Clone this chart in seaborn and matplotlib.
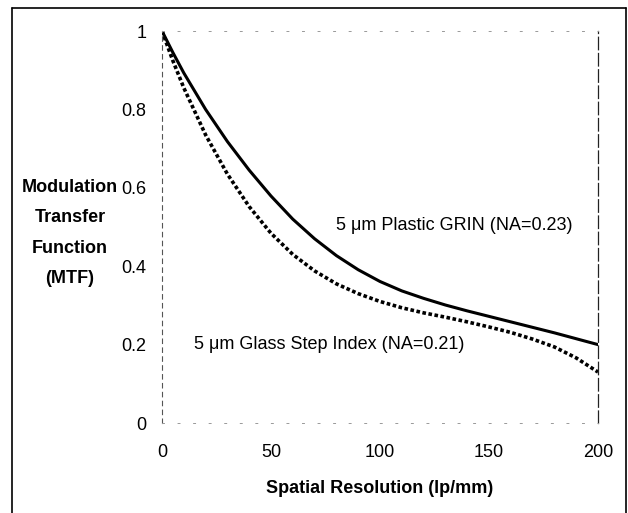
import matplotlib
matplotlib.use("Agg")
import matplotlib.pyplot as plt
import seaborn as sns
import pandas as pd
from matplotlib.lines import Line2D

# Data
freq = [0, 5, 10, 20, 30, 40, 50, 60, 70, 80, 90, 100, 110, 120, 130, 140, 150, 160, 170, 180, 190, 200]
mtf_grin = [1.000, 0.945, 0.893, 0.800, 0.718, 0.645, 0.579, 0.520, 0.470, 0.427, 0.391, 0.361,
            0.337, 0.318, 0.301, 0.286, 0.272, 0.258, 0.244, 0.230, 0.215, 0.200]
mtf_step = [1.000, 0.924, 0.855, 0.735, 0.635, 0.552, 0.484, 0.430, 0.388, 0.355, 0.330, 0.310,
            0.294, 0.281, 0.270, 0.258, 0.245, 0.231, 0.214, 0.194, 0.166, 0.130]
series_names = ["5 \u03bcm Plastic GRIN (NA=0.23)", "5 \u03bcm Glass Step Index (NA=0.21)"]
xticks = [0, 50, 100, 150, 200]
yticks = [0, 0.2, 0.4, 0.6, 0.8, 1]
ytick_labels = ["0", "0.2", "0.4", "0.6", "0.8", "1"]

df = pd.DataFrame({
    "freq": freq * 2,
    "mtf": mtf_grin + mtf_step,
    "series": [series_names[0]] * len(freq) + [series_names[1]] * len(freq),
})

sns.set_theme(style="white")
plt.rcParams["font.family"] = ["Liberation Sans", "DejaVu Sans"]
plt.rcParams["text.color"] = "black"
plt.rcParams["axes.labelcolor"] = "black"

fig = plt.figure(figsize=(6.28, 5.13), dpi=100)
ax = fig.add_axes([162/628, 1 - 423/513, 436/628, 392/513])

sns.lineplot(data=df, x="freq", y="mtf", hue="series",
             palette=["black", "black"], linewidth=2.4, legend=False, ax=ax, sort=False)
ax.lines[0].set_linestyle("-")
ax.lines[0].set_linewidth(2.2)
ax.lines[0].set_solid_joinstyle("round")
ax.lines[1].set_linestyle((0, (1.0, 0.7)))
ax.lines[1].set_linewidth(2.6)

ax.set_xlim(0, 200)
ax.set_ylim(0, 1)
ax.set_xticks(xticks)
ax.set_yticks(yticks)
ax.set_yticklabels(ytick_labels)
ax.tick_params(axis="both", which="both", direction="inout", length=6, width=0.6,
               color="#777777", labelsize=13, labelcolor="black")
ax.tick_params(axis="y", pad=8)
ax.tick_params(axis="x", pad=12)

for side in ["top", "bottom"]:
    ax.spines[side].set_visible(True)
    ax.spines[side].set_color("#999999")
    ax.spines[side].set_linewidth(0.7)
    ax.spines[side].set_linestyle((0, (2, 14)))
ax.spines["left"].set_color("#555555")
ax.spines["left"].set_linewidth(0.8)
ax.spines["left"].set_linestyle((0, (4, 4)))
ax.spines["right"].set_color("#222222")
ax.spines["right"].set_linewidth(0.9)
ax.spines["right"].set_linestyle((0, (10, 3)))

ax.set_xlabel("Spatial Resolution (lp/mm)", fontsize=13, fontweight="bold", labelpad=14)
ax.set_ylabel("Modulation\nTransfer\nFunction\n(MTF)", fontsize=13, fontweight="bold",
              rotation=0, ha="center", va="center", linespacing=2.05)
ax.yaxis.set_label_coords((70 - 162) / 436, (423 - 233) / 392)

ax.text(134, 0.503, series_names[0], fontsize=13, ha="center", va="center")
ax.text(76.5, 0.20, series_names[1], fontsize=13, ha="center", va="center")

# outer frame of the scanned figure
fig.add_artist(Line2D([12/628, 12/628], [0, 1 - 8/513], transform=fig.transFigure, color="black", lw=1.2))
fig.add_artist(Line2D([12/628, 626/628], [1 - 8/513, 1 - 8/513], transform=fig.transFigure, color="black", lw=1.2))
fig.add_artist(Line2D([626/628, 626/628], [0, 1 - 8/513], transform=fig.transFigure, color="black", lw=1.2))

fig.savefig("out.png", dpi=100, facecolor="white")
